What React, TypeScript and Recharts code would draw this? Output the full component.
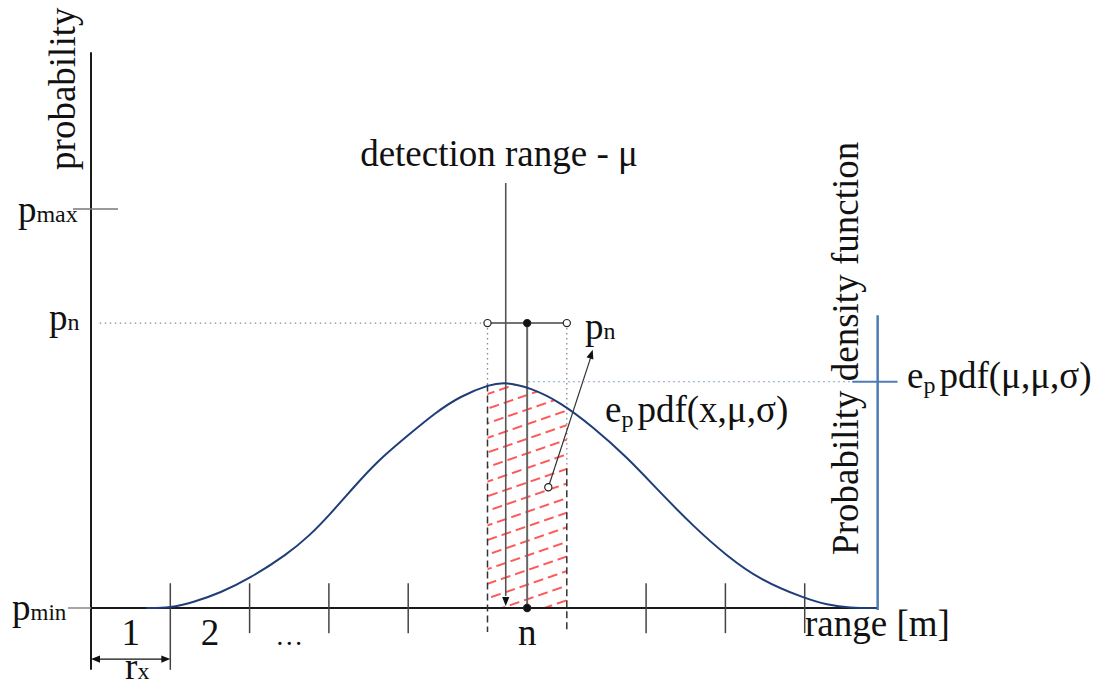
import React from 'react';
import { ComposedChart, XAxis, YAxis, Line, Area, ReferenceLine, ReferenceDot } from 'recharts';

const FONT = '"Liberation Serif", "Times New Roman", Times, serif';
const INK = '#111';
const NAVY = '#1f3d78';
const STEEL = '#4d7db3';

// range cells along the x axis (cell width r_x = 1)
const cellTicks = [1, 2, 3, 4, 7, 8, 9];
const cellLabels = ['1', '2', '…', 'n'];
const cellLabelAt = [0.5, 1.5, 2.5, 5.5];
const cellN = [5, 6];
const rangeEnd = 9.92;

// probability levels
const pMin = 0;
const pN = 0.714;
const pMax = 1.0;
const pTop = 1.393;
const pdfPeak = 0.567;
const mu = 5.23;

// e_p · pdf(x, μ, σ) sampled along the range axis
const pdfX = [0.7, 1.0, 1.3, 1.63, 2.0, 2.47, 2.76, 3.01, 3.31, 3.6, 3.98, 4.36, 4.65, 5.03, 5.24, 5.54, 5.91, 6.33, 6.76, 7.18, 7.6, 8.02, 8.44, 9.0, 9.28, 9.57, 9.9];
const pdfY = [0, 0, 0.015, 0.038, 0.074, 0.134, 0.182, 0.234, 0.302, 0.366, 0.43, 0.492, 0.53, 0.561, 0.566, 0.552, 0.517, 0.454, 0.378, 0.289, 0.204, 0.13, 0.07, 0.024, 0.008, 0, 0];

// the part of the curve over cell n (hatched)
const cellNX = [5.0, 5.24, 5.54, 5.78, 6.0];
const cellNY = [0.556, 0.56, 0.548, 0.528, 0.503];

const pdfData = pdfX.map((x, i) => ({ x, y: pdfY[i] }));
const cellNData = cellNX.map((x, i) => ({ x, y: cellNY[i] }));

const seg = (key: string, x1: number, y1: number, x2: number, y2: number, style: any) => (
  <ReferenceLine key={key} segment={[{ x: x1, y: y1 }, { x: x2, y: y2 }]} ifOverflow="visible" {...style} />
);

const dot = (key: string, x: number, y: number, fill: string) => (
  <ReferenceDot key={key} x={x} y={y} r={3.6} fill={fill} stroke="#222" strokeWidth={1.2} ifOverflow="visible" />
);

const arrowHead = (key: string, x: number, y: number, angle: number) => (
  <ReferenceDot
    key={key}
    x={x}
    y={y}
    r={0}
    ifOverflow="visible"
    shape={(p: any) => (
      <path d="M0,0 L-9,-3.6 L-9,3.6 Z" fill={INK} transform={`translate(${p.cx},${p.cy}) rotate(${angle})`} />
    )}
  />
);

type Run = { t: string; size?: number; dx?: number; dy?: number };
const note = (key: string, x: number, y: number, runs: Run[], anchor: string = 'start', vertical = false, size = 37) => (
  <ReferenceDot
    key={key}
    x={x}
    y={y}
    r={0}
    ifOverflow="visible"
    shape={(p: any) => (
      <text
        x={p.cx}
        y={p.cy}
        fontFamily={FONT}
        fontSize={size}
        fill={INK}
        textAnchor={anchor as any}
        transform={vertical ? `rotate(-90 ${p.cx} ${p.cy})` : undefined}
      >
        {runs.map((r, i) => (
          <tspan key={i} fontSize={r.size} dx={r.dx} dy={r.dy}>
            {r.t}
          </tspan>
        ))}
      </text>
    )}
  />
);

const axisStyle = { stroke: '#1a1a1a', strokeWidth: 2 };
const tickStyle = { stroke: '#444', strokeWidth: 1.5 };
const dashStyle = { stroke: '#333', strokeWidth: 1.5, strokeDasharray: '7 4' };
const dotLine = { stroke: '#8a8a8a', strokeWidth: 1.3, strokeDasharray: '1.5 3.5' };

export default function App() {
  return (
    <div style={{ position: 'absolute', left: 0, top: 0, width: 1096, height: 686, background: '#fff' }}>
      <svg width={0} height={0} style={{ position: 'absolute' }}>
        <defs>
          <pattern id="hatchN" patternUnits="userSpaceOnUse" width={15} height={13.8} patternTransform="rotate(-19)">
            <line x1={0} y1={6.9} x2={15} y2={6.9} stroke="#ff2323" strokeWidth={1.5} strokeDasharray="10 5" />
          </pattern>
        </defs>
      </svg>
      <ComposedChart width={1096} height={686} margin={{ top: 49.4, right: 212, bottom: 78, left: 91 }}>
        <XAxis type="number" dataKey="x" domain={[0, 10]} hide />
        <YAxis type="number" domain={[0, 1.4]} hide />

        <Area
          data={cellNData}
          dataKey="y"
          type="monotone"
          fill="url(#hatchN)"
          fillOpacity={1}
          stroke="none"
          baseValue={0}
          isAnimationActive={false}
        />

        {/* axes and level stubs */}
        {seg('yaxis', 0, pTop, 0, -0.155, axisStyle)}
        {seg('xaxis', 0, pMin, rangeEnd, pMin, axisStyle)}
        {seg('pmin-stub', -0.29, pMin, 0, pMin, { stroke: '#888', strokeWidth: 1.5 })}
        {seg('pmax-stub', -0.227, pMax, 0.34, pMax, { stroke: '#777', strokeWidth: 1.5 })}

        {/* cell ticks */}
        {cellTicks.map((c) => seg(`tick-${c}`, c, 0.062, c, c === 1 ? -0.155 : -0.063, tickStyle))}

        {/* r_x dimension */}
        {seg('rx', 0.03, -0.128, 0.97, -0.128, { stroke: INK, strokeWidth: 1.3 })}
        {arrowHead('rx-l', 0, -0.128, 180)}
        {arrowHead('rx-r', 1, -0.128, 0)}

        {/* p_n level and cell n bounds */}
        {seg('pn-dots', 0.11, pN, cellN[0], pN, dotLine)}
        {seg('pn-bar', cellN[0], pN, cellN[1], pN, { stroke: '#444', strokeWidth: 1.5 })}
        {seg('nL-dots', cellN[0], pN, cellN[0], 0.56, dotLine)}
        {seg('nL-dash', cellN[0], 0.56, cellN[0], -0.06, dashStyle)}
        {seg('nR-dots', cellN[1], pN, cellN[1], 0.35, dotLine)}
        {seg('nR-dash', cellN[1], 0.35, cellN[1], -0.06, dashStyle)}
        {seg('n-mid', 5.5, pN, 5.5, 0, { stroke: '#666', strokeWidth: 2 })}

        {/* detection range μ */}
        {seg('mu', mu, 1.065, mu, 0.03, { stroke: '#555', strokeWidth: 1.6 })}
        {arrowHead('mu-head', mu, 0.005, 90)}

        {/* pointer from the hatched area to p_n */}
        {seg('ptr', 5.767, 0.3025, 6.31, 0.633, { stroke: '#333', strokeWidth: 1.2 })}
        {arrowHead('ptr-head', 6.327, 0.647, -71.9)}

        {/* pdf peak level and density axis */}
        {seg('peak-dots', 5.51, pdfPeak, 9.6, pdfPeak, { stroke: '#86a3c8', strokeWidth: 1.2, strokeDasharray: '2 3' })}
        {seg('peak-tick', 9.6, pdfPeak, 10.17, pdfPeak, { stroke: STEEL, strokeWidth: 2 })}
        {seg('pdf-axis', rangeEnd, 0.734, rangeEnd, -0.005, { stroke: STEEL, strokeWidth: 2.5 })}

        <Line
          data={pdfData}
          dataKey="y"
          type="basis"
          stroke={NAVY}
          strokeWidth={2}
          dot={false}
          isAnimationActive={false}
        />

        {dot('pn-l', cellN[0], pN, '#fff')}
        {dot('pn-r', cellN[1], pN, '#fff')}
        {dot('pn-m', 5.5, pN, INK)}
        {dot('n-base', 5.5, 0, INK)}
        {dot('ptr-tail', 5.767, 0.3025, '#fff')}

        {/* text */}
        {note('t-prob', -0.202, 1.098, [{ t: 'probability' }], 'start', true)}
        {note('t-pmax', -0.921, 0.967, [{ t: 'p' }, { t: 'max', size: 24 }])}
        {note('t-pn', -0.53, 0.697, [{ t: 'p' }, { t: 'n', size: 24 }])}
        {note('t-pmin', -0.996, -0.03, [{ t: 'p' }, { t: 'min', size: 23 }])}
        {cellLabels.map((s, i) =>
          note(`cell-${i}`, cellLabelAt[i], -0.093, [{ t: s }], 'middle', false, s === '…' ? 28 : 37)
        )}
        {note('t-rx', 0.43, -0.177, [{ t: 'r' }, { t: 'x', size: 24 }])}
        {note('t-mu', 5.145, 1.108, [{ t: 'detection range - μ' }], 'middle')}
        {note('t-pn2', 6.23, 0.674, [{ t: 'p' }, { t: 'n', size: 24 }])}
        {note('t-pdfx', 6.482, 0.466, [{ t: 'e' }, { t: 'p', size: 24, dy: 5 }, { t: 'pdf(x,μ,σ)', dy: -5, dx: 4 }])}
        {note('t-pdfmu', 10.29, 0.551, [{ t: 'e' }, { t: 'p', size: 24, dy: 5 }, { t: 'pdf(μ,μ,σ)', dy: -5, dx: 4 }])}
        {note('t-dens', 9.672, 0.133, [{ t: 'Probability density function' }], 'start', true)}
        {note('t-range', 9.004, -0.07, [{ t: 'range [m]' }])}
      </ComposedChart>
    </div>
  );
}
